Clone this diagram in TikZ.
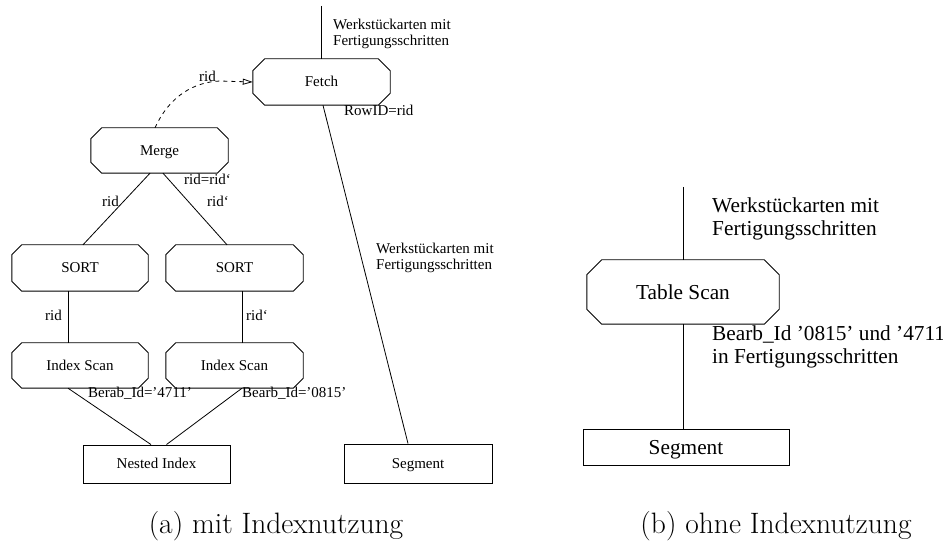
\documentclass[tikz,border=0pt]{standalone}
\usepackage{fontspec}
\newfontfamily\diafont{Liberation Serif}
\usetikzlibrary{arrows.meta}

% octagonal operator outline drawn around a named rectangular node
\newcommand\octbox[2]{%
  \draw[boxline] ([xshift=#2]#1.north west) -- ([xshift=-#2]#1.north east)
    -- ([yshift=-#2]#1.north east) -- ([yshift=#2]#1.south east)
    -- ([xshift=-#2]#1.south east) -- ([xshift=#2]#1.south west)
    -- ([yshift=#2]#1.south west) -- ([yshift=-#2]#1.north west) -- cycle;}

\begin{document}
\begin{tikzpicture}[x=1pt,y=-1pt,
  boxline/.style={line width=0.9pt},
  conn/.style={line width=0.8pt},
  smallfont/.style={font=\diafont\fontsize{15}{16}\selectfont},
  bigfont/.style={font=\diafont\fontsize{21.3}{23}\selectfont},
  op/.style={smallfont, rectangle, inner sep=0pt, text height=9.9pt, text depth=0pt},
  opbig/.style={bigfont, rectangle, inner sep=0pt, text height=14.1pt, text depth=0pt},
  store/.style={op, draw, boxline},
  storebig/.style={opbig, draw, boxline},
  lbl/.style={smallfont, inner sep=0pt, anchor=base west},
  lblblock/.style={smallfont, inner sep=0pt, anchor=north west, align=left},
  lblbigblock/.style={bigfont, inner sep=0pt, anchor=north west, align=left},
  caption/.style={font=\fontsize{29.5}{32}\selectfont, inner sep=0pt, anchor=base}]

\useasboundingbox (0,0) rectangle (943,553);

% ---------- (a) plan with index use ----------
\node[op, minimum width=137pt, minimum height=46pt] (fetch) at (321.5,82) {Fetch};
\node[op, minimum width=137pt, minimum height=45pt] (merge) at (159.5,150.5) {Merge};
\node[op, minimum width=136pt, minimum height=46pt] (sortL) at (80,268) {SORT};
\node[op, minimum width=137pt, minimum height=46pt] (sortR) at (234.5,268) {SORT};
\node[op, minimum width=136pt, minimum height=45pt] (scanL) at (80,365.5) {Index Scan};
\node[op, minimum width=137pt, minimum height=45pt] (scanR) at (234.5,365.5) {Index Scan};
\node[store, minimum width=147pt, minimum height=38pt] (nested) at (156.5,464) {Nested Index};
\node[store, minimum width=148pt, minimum height=39pt] (segL) at (418,463.5) {Segment};

\octbox{fetch}{12pt}
\octbox{merge}{11pt}
\octbox{sortL}{10pt}
\octbox{sortR}{10pt}
\octbox{scanL}{10pt}
\octbox{scanR}{10pt}

\coordinate (outA) at (321.5,6);
\draw[conn] (outA) -- (fetch.north);
\draw[conn] ([xshift=1.5pt]fetch.south) -- ([xshift=-10pt]segL.north);
\draw[conn] ([xshift=-9.5pt]merge.south) -- ([xshift=3pt]sortL.north);
\draw[conn] ([xshift=3.5pt]merge.south) -- ([xshift=-7.5pt]sortR.north);
\draw[conn] ([xshift=-12pt]sortL.south) -- ([xshift=-12pt]scanL.north);
\draw[conn] ([xshift=7.5pt]sortR.south) -- ([xshift=7.5pt]scanR.north);
\draw[conn] ([xshift=-12pt]scanL.south) -- ([xshift=-5.5pt]nested.north);
\draw[conn] ([xshift=7.5pt]scanR.south) -- ([xshift=10pt]nested.north);

% rid passed from Merge back to Fetch
\draw[conn, dash pattern=on 4pt off 4pt, -{Triangle[open,length=10pt,width=6pt]}]
  ([xshift=-4.5pt]merge.north) .. controls (170,95) and (195,82) .. (220,81) -- (fetch.west);

\node[lblblock] (inA) at (333,19.3) {Werkstückarten mit\\Fertigungsschritten};
\node[lbl] (rowid) at (344,116) {RowID=rid};
\node[lblblock] (inSeg) at (376,242.8) {Werkstückarten mit\\Fertigungsschritten};
\node[lbl] (ridFetch) at (199,82) {rid};
\node[lbl] (ridEq) at (184,185) {rid=rid‘};
\node[lbl] (ridA) at (102,207) {rid};
\node[lbl] (ridB) at (207,207) {rid‘};
\node[lbl] (ridC) at (45,321) {rid};
\node[lbl] (ridD) at (246,321) {rid‘};
\node[lbl] (predA) at (88,398) {Berab\_Id=’4711’};
\node[lbl] (predB) at (242,398) {Bearb\_Id=’0815’};

% ---------- (b) plan without index use ----------
\node[opbig, minimum width=192pt, minimum height=64pt] (tscan) at (683,292) {Table Scan};
\node[storebig, minimum width=206pt, minimum height=36pt] (segR) at (686,447) {Segment};
\octbox{tscan}{15pt}

\coordinate (outB) at (683,187);
\draw[conn] (outB) -- (tscan.north);
\draw[conn] (tscan.south) -- ([xshift=-3pt]segR.north);

\node[lblbigblock] (inB) at (712,197.2) {Werkstückarten mit\\Fertigungsschritten};
\node[lblbigblock] (predC) at (712,325.5) {Bearb\_Id ’0815’ und ’4711’\\in Fertigungsschritten};

% ---------- captions ----------
\node[caption] (capA) at (276,533.5) {(a) mit Indexnutzung};
\node[caption] (capB) at (776,533.5) {(b) ohne Indexnutzung};
\end{tikzpicture}
\end{document}
